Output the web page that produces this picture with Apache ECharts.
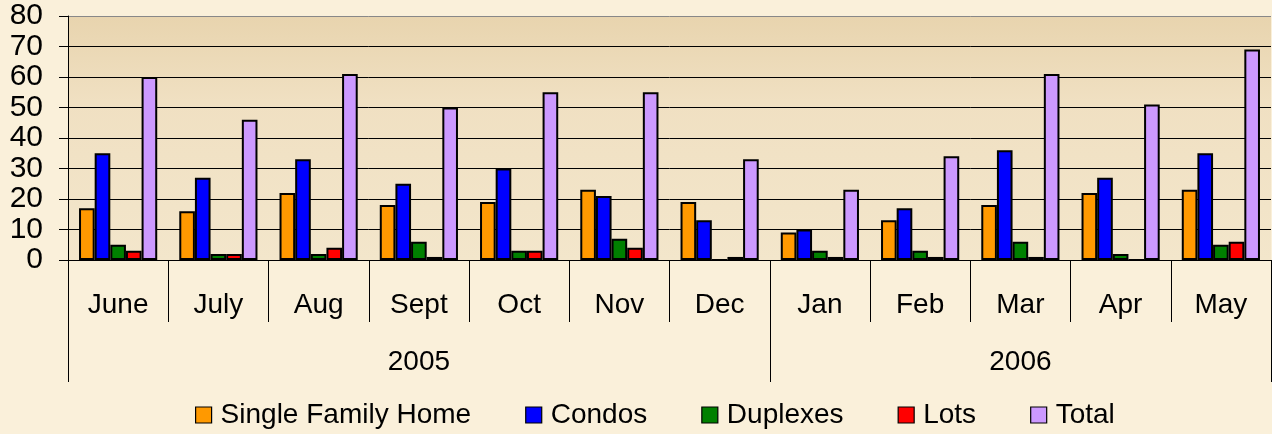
<!DOCTYPE html>
<html>
<head>
<meta charset="utf-8">
<script src="https://cdn.jsdelivr.net/npm/echarts@6/dist/echarts.min.js"></script>
<style>
  html, body { margin: 0; padding: 0; background: #FAF0DA; }
  #chart { width: 1272px; height: 434px; }
</style>
</head>
<body>
<div id="chart"></div>
<script>
const months = ['June','July','Aug','Sept','Oct','Nov','Dec','Jan','Feb','Mar','Apr','May'];
const years = ['2005','2006'];
const monthsPerYear = [7, 5];
const seriesNames = ['Single Family Home','Condos','Duplexes','Lots','Total'];
const singleFamily = [17,16,22,18,19,23,19,9,13,18,22,23];
const condos      = [35,27,33,25,30,21,13,10,17,36,27,35];
const duplexes    = [5,2,2,6,3,7,0,3,3,6,2,5];
const lots        = [3,2,4,1,3,4,1,1,1,1,0,6];
const total       = [60,46,61,50,55,55,33,23,34,61,51,69];
const yMin = 0, yMax = 80, yStep = 10;
const colors = ['#FF9900','#0000FF','#008000','#FF0000','#CC99FF'];

const allValues = [singleFamily, condos, duplexes, lots, total];

// year axis: boundaries and label centres derived from month counts
const yearBounds = [0];
monthsPerYear.forEach(c => yearBounds.push(yearBounds[yearBounds.length - 1] + c));
const yearCentres = monthsPerYear.map((c, i) => yearBounds[i] + c / 2);

const font = "'Liberation Sans', Arial, sans-serif";
const chart = echarts.init(document.getElementById('chart'));

chart.setOption({
  backgroundColor: '#FAF0DA',
  animation: false,
  textStyle: { fontFamily: font, color: '#000' },
  grid: {
    left: 68, right: 1, top: 16, bottom: 174,
    show: true, borderWidth: 0,
    backgroundColor: {
      type: 'linear', x: 0, y: 0, x2: 0, y2: 1,
      colorStops: [
        { offset: 0, color: '#E8D4AE' },
        { offset: 0.35, color: '#F0E0C2' },
        { offset: 1, color: '#F3E6CB' }
      ]
    }
  },
  legend: {
    data: seriesNames,
    left: 190, top: 396,
    itemWidth: 16, itemHeight: 16, itemGap: 54,
    icon: 'rect',
    itemStyle: { borderColor: '#000', borderWidth: 1.2 },
    textStyle: { fontFamily: font, fontSize: 28, color: '#000', padding: [0, 0, 0, 4] }
  },
  xAxis: [
    {
      type: 'category',
      data: months,
      position: 'bottom',
      axisLine: { show: true, lineStyle: { color: '#000', width: 1 } },
      axisTick: { show: true, interval: 0, length: 62, lineStyle: { color: '#000', width: 1 } },
      axisLabel: { interval: 0, margin: 31, fontSize: 28, color: '#000', fontFamily: font },
      splitLine: { show: false }
    },
    {
      type: 'value',
      min: 0, max: months.length,
      position: 'bottom',
      axisLine: { show: false },
      axisTick: { show: true, customValues: yearBounds, length: 122, lineStyle: { color: '#000', width: 1 } },
      axisLabel: {
        show: true, customValues: yearCentres, margin: 88, fontSize: 28, color: '#000', fontFamily: font,
        formatter: v => years[yearCentres.indexOf(v)] || ''
      },
      splitLine: { show: false }
    }
  ],
  yAxis: {
    type: 'value',
    min: yMin, max: yMax, interval: yStep,
    axisLine: { show: true, lineStyle: { color: '#000', width: 1 } },
    axisTick: { show: true, length: 9, lineStyle: { color: '#000' } },
    axisLabel: { margin: 25, fontSize: 30, color: '#000', fontFamily: font },
    splitLine: {
      show: true,
      lineStyle: { color: ['#000','#000','#000','#000','#000','#000','#000','#000','#888'], width: 1 }
    }
  },
  series: seriesNames.map((name, i) => ({
    name,
    type: 'bar',
    xAxisIndex: 0,
    data: allValues[i],
    barGap: '0%',
    barCategoryGap: '22%',
    itemStyle: { color: colors[i], borderColor: '#000', borderWidth: 2 }
  }))
});
</script>
</body>
</html>
